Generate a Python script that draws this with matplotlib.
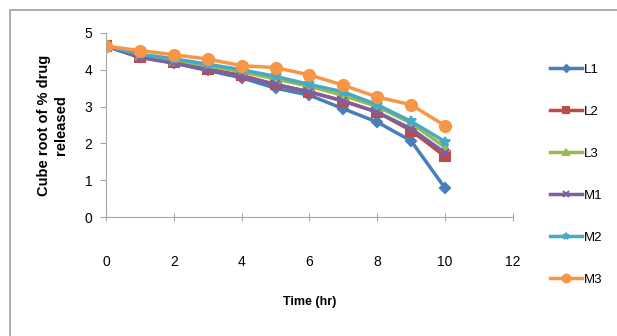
import numpy as np
import matplotlib
matplotlib.use('Agg')
import matplotlib.pyplot as plt
from matplotlib.patches import Rectangle

plt.rcParams['font.family'] = ['Liberation Sans', 'DejaVu Sans']
plt.rcParams['font.size'] = 9

# data
time = [0, 1, 2, 3, 4, 5, 6, 7, 8, 9, 10]
L1 = [4.64, 4.35, 4.18, 3.98, 3.78, 3.50, 3.31, 2.94, 2.58, 2.07, 0.79]
L2 = [4.64, 4.35, 4.20, 4.02, 3.85, 3.60, 3.40, 3.15, 2.85, 2.35, 1.65]
L3 = [4.64, 4.40, 4.25, 4.10, 3.95, 3.75, 3.55, 3.30, 3.00, 2.55, 1.90]
M1 = [4.64, 4.33, 4.18, 4.00, 3.82, 3.60, 3.40, 3.15, 2.85, 2.40, 1.75]
M2 = [4.64, 4.42, 4.30, 4.15, 4.00, 3.82, 3.60, 3.40, 3.05, 2.60, 2.05]
M3 = [4.64, 4.52, 4.41, 4.29, 4.11, 4.06, 3.86, 3.58, 3.26, 3.05, 2.48]

series = [('L1', L1, '#4A7EBB', 'D', 5),
          ('L2', L2, '#BE4B48', 's', 7),
          ('L3', L3, '#98B954', '^', 6),
          ('M1', M1, '#7D60A0', 'x', 6),
          ('M2', M2, '#46AAC5', '*', 7),
          ('M3', M3, '#F79646', 'o', 8)]

fig = plt.figure(figsize=(6.17, 3.36), dpi=100)
fig.patches.append(Rectangle((10/617, -0.1), 1.2, 1 - 10/336 + 0.1,
                             transform=fig.transFigure, fill=False,
                             edgecolor='#a0a0a0', linewidth=1.2))
ax = fig.add_axes([0.172, 0.354, 0.659, 0.548])

for name, vals, col, mk, ms in series:
    ax.plot(time, vals, color=col, marker=mk, markersize=ms, linewidth=2.5,
            markeredgecolor=col, markeredgewidth=1.5, label=name)

ax.set_xlim(0, 12)
ax.set_ylim(0, 5)
ax.set_xticks(range(0, 13, 2))
ax.set_yticks(range(0, 6))
for s in ['top', 'right']:
    ax.spines[s].set_visible(False)
for s in ['left', 'bottom']:
    ax.spines[s].set_color('#a6a6a6')
ax.tick_params(axis='x', direction='inout', length=6, color='#a6a6a6',
               pad=24, labelsize=10)
ax.tick_params(axis='y', direction='out', length=4, color='#a6a6a6',
               pad=6, labelsize=10)

ax.set_xlabel('Time (hr)', labelpad=20, fontweight='bold')
ax.set_ylabel('Cube root of % drug\nreleased', fontweight='bold',
              fontsize=10.5, labelpad=12)

fig.legend(loc='center left', bbox_to_anchor=(0.872, 0.48), frameon=False,
           labelspacing=2.25, handlelength=2.4, handletextpad=0.2,
           fontsize=9.5, markerscale=0.7)

plt.savefig('out.png', dpi=100)
